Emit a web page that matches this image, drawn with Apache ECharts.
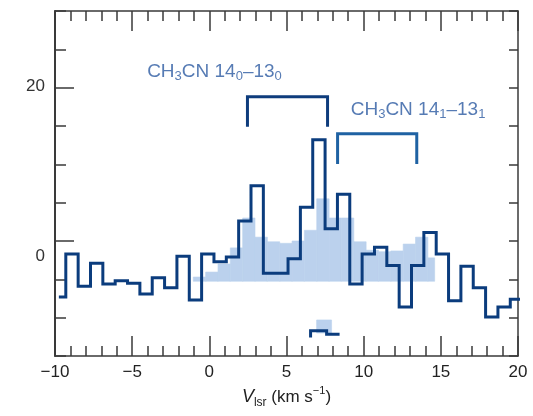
<!DOCTYPE html>
<html>
<head>
<meta charset="utf-8">
<script src="https://cdn.jsdelivr.net/npm/echarts@6/dist/echarts.min.js"></script>
<style>
  html, body { margin: 0; padding: 0; background: #fff; }
  #chart { width: 533px; height: 416px; }
</style>
</head>
<body>
<div id="chart"></div>
<script>
// observed spectrum, 0.8 km/s channels (first one is cut off at the left)
var chanWidth = 0.8;
var lineStart = -9.75;
var lineFirstEdge = -9.3;
var lineValues = [-7.3, -1.7, -5.9, -2.9, -5.6, -5.2, -5.5, -6.9, -4.8, -6.1,
  -2.0, -7.7, -1.7, -2.7, -2.1, 2.6, 7.2, -4.2, -4.2, -2.3,
  4.4, 13.2, 1.6, 6.1, -5.6, -1.7, -0.8, -3.2, -8.6, -3.2,
  1.1, -1.7, -7.8, -3.3, -6.1, -9.9, -8.6, -7.6];

// model spectrum (shaded)
var fillFirstEdge = -1.04;
var fillEnd = 14.6;
var fillBase = -5.25;
var fillValues = [-4.7, -4.05, -3.0, -0.9, 3.0, 0.5, -0.1, -0.3, 0.0, 1.4,
  5.5, 3.0, 3.0, -0.1, -1.2, -1.4, -1.3, -0.4, 0.5, -2.2];

// piece of the next spectrum showing at the bottom
var lowLine = [[6.56, -12.6], [6.56, -11.7], [7.6, -11.7], [7.6, -12.15], [8.44, -12.15]];
var lowFill = [6.95, 7.92, -10.3, -12.0];

// line markers
var bracket1 = [[2.47, 14.9], [2.47, 18.8], [7.66, 18.8], [7.66, 14.9]];
var bracket2 = [[8.31, 10.05], [8.31, 14.0], [13.44, 14.0], [13.44, 10.05]];
var label1 = { text: 'CH{s|3}CN 14{s|0}–13{s|0}', at: [-4.03, 22.1] };
var label2 = { text: 'CH{s|3}CN 14{s|1}–13{s|1}', at: [9.16, 17.1] };

var yLabelValues = [0, 20];
var xName = '{i|V}{sub|lsr}{n| (km s}{sup|−1}{n|)}';

var FONT = 'Liberation Sans, Arial, Helvetica, sans-serif';
var frameColor = '#3a3a3a';

function stepPoints() {
  var pts = [[lineStart, lineValues[0]], [lineFirstEdge, lineValues[0]]];
  for (var i = 1; i < lineValues.length; i++) {
    var a = lineFirstEdge + (i - 1) * chanWidth;
    pts.push([a, lineValues[i]], [a + chanWidth, lineValues[i]]);
  }
  return pts;
}

function fillRects() {
  var rects = [];
  for (var i = 0; i < fillValues.length; i++) {
    var a = fillFirstEdge + i * chanWidth;
    var b = Math.min(a + chanWidth, fillEnd);
    rects.push([a, b, fillValues[i], fillBase]);
  }
  rects.push(lowFill);
  return rects;
}

var dom = document.getElementById('chart');
var myChart = echarts.init(dom, null, { renderer: 'canvas' });

var xCommon = {
  type: 'value', min: -10, max: 20, interval: 5,
  axisLine: { show: true, onZero: false, lineStyle: { color: frameColor, width: 1.5 } },
  axisTick: { show: true, inside: true, length: 20, lineStyle: { color: frameColor, width: 1.5 } },
  minorTick: { show: true, splitNumber: 5, length: 10, lineStyle: { color: frameColor, width: 1.5 } },
  splitLine: { show: false }
};
var yCommon = {
  type: 'value', min: -15, max: 30, interval: 5,
  splitLine: { show: false }
};

var option = {
  backgroundColor: '#fff',
  animation: false,
  grid: { left: 55, right: 15, top: 11, bottom: 60, outerBoundsMode: 'none' },
  xAxis: [
    Object.assign({}, xCommon, {
      position: 'bottom',
      axisLabel: {
        show: true, fontSize: 17, fontFamily: FONT, color: '#222', margin: 8,
        showMinLabel: true, showMaxLabel: true,
        formatter: function (v) { return String(v).replace('-', '−'); }
      },
      name: xName,
      nameLocation: 'middle',
      nameGap: 29,
      nameTextStyle: {
        color: '#222', fontFamily: FONT, fontSize: 17,
        rich: {
          i: { fontStyle: 'italic', fontSize: 18, lineHeight: 23, fontFamily: FONT, color: '#222' },
          sub: { fontSize: 12, lineHeight: 12, verticalAlign: 'bottom', fontFamily: FONT, color: '#222' },
          n: { fontSize: 17, lineHeight: 23, fontFamily: FONT, color: '#222' },
          sup: { fontSize: 11, lineHeight: 11, verticalAlign: 'top', fontFamily: FONT, color: '#222' }
        }
      }
    }),
    Object.assign({}, xCommon, { position: 'top', axisLabel: { show: false } })
  ],
  yAxis: [
    Object.assign({}, yCommon, {
      position: 'left',
      axisLine: { show: true, onZero: false, lineStyle: { color: frameColor, width: 2 } },
      axisTick: { show: true, inside: true, length: 11, lineStyle: { color: frameColor, width: 1.5 } },
      axisLabel: { show: false }
    }),
    Object.assign({}, yCommon, {
      position: 'left',
      offset: 0,
      axisLine: { show: false, onZero: false },
      axisTick: { show: true, inside: true, length: 19, customValues: yLabelValues,
        lineStyle: { color: frameColor, width: 1.5 } },
      axisLabel: {
        show: true, customValues: yLabelValues, fontSize: 17, fontFamily: FONT, color: '#333', margin: 10,
        formatter: function (v) { return v === 0 ? '{d|0}' : '{u|' + v + '}'; },
        rich: {
          d: { fontSize: 17, fontFamily: FONT, color: '#333', padding: [30, 0, 0, 0] },
          u: { fontSize: 17, fontFamily: FONT, color: '#333', padding: [0, 0, 2, 0] }
        }
      }
    }),
    Object.assign({}, yCommon, {
      position: 'right',
      axisLine: { show: true, onZero: false, lineStyle: { color: frameColor, width: 1.5 } },
      axisTick: { show: true, inside: true, length: 9, lineStyle: { color: frameColor, width: 1.5 } },
      axisLabel: { show: false }
    })
  ],
  series: [
    {
      name: 'model',
      type: 'custom',
      xAxisIndex: 0,
      yAxisIndex: 0,
      z: 1,
      data: fillRects(),
      renderItem: function (params, api) {
        var p0 = api.coord([api.value(0), api.value(2)]);
        var p1 = api.coord([api.value(1), api.value(3)]);
        return {
          type: 'rect',
          shape: { x: p0[0], y: p0[1], width: p1[0] - p0[0], height: p1[1] - p0[1] },
          style: { fill: '#bbd1ed', stroke: '#bbd1ed', lineWidth: 0.6 }
        };
      }
    },
    {
      name: 'spectrum',
      type: 'line',
      xAxisIndex: 0,
      yAxisIndex: 0,
      z: 3,
      symbol: 'none',
      data: stepPoints(),
      lineStyle: { color: '#0b3c7d', width: 3, join: 'miter' }
    },
    {
      name: 'lower',
      type: 'line',
      z: 3,
      symbol: 'none',
      data: lowLine,
      lineStyle: { color: '#0b3c7d', width: 3, join: 'miter' }
    },
    {
      name: 'bracket1',
      type: 'line',
      z: 4,
      symbol: 'none',
      data: bracket1,
      lineStyle: { color: '#0e3c7c', width: 3, join: 'miter' }
    },
    {
      name: 'bracket2',
      type: 'line',
      z: 4,
      symbol: 'none',
      data: bracket2,
      lineStyle: { color: '#1f62a3', width: 3, join: 'miter' }
    },
    {
      name: 'labels',
      type: 'scatter',
      z: 5,
      symbolSize: 0,
      itemStyle: { color: 'transparent' },
      data: [
        { value: label1.at, text: label1.text },
        { value: label2.at, text: label2.text }
      ],
      label: {
        show: true,
        position: [0, 0],
        align: 'left',
        verticalAlign: 'middle',
        formatter: function (p) { return p.data.text; },
        fontSize: 19,
        lineHeight: 23,
        fontFamily: FONT,
        color: '#2c5aa1',
        rich: {
          s: { fontSize: 13, lineHeight: 13, verticalAlign: 'bottom', fontFamily: FONT, color: '#2c5aa1' }
        }
      }
    }
  ]
};

if (option && typeof option === 'object') {
  myChart.setOption(option, true);
}
</script>
</body>
</html>
